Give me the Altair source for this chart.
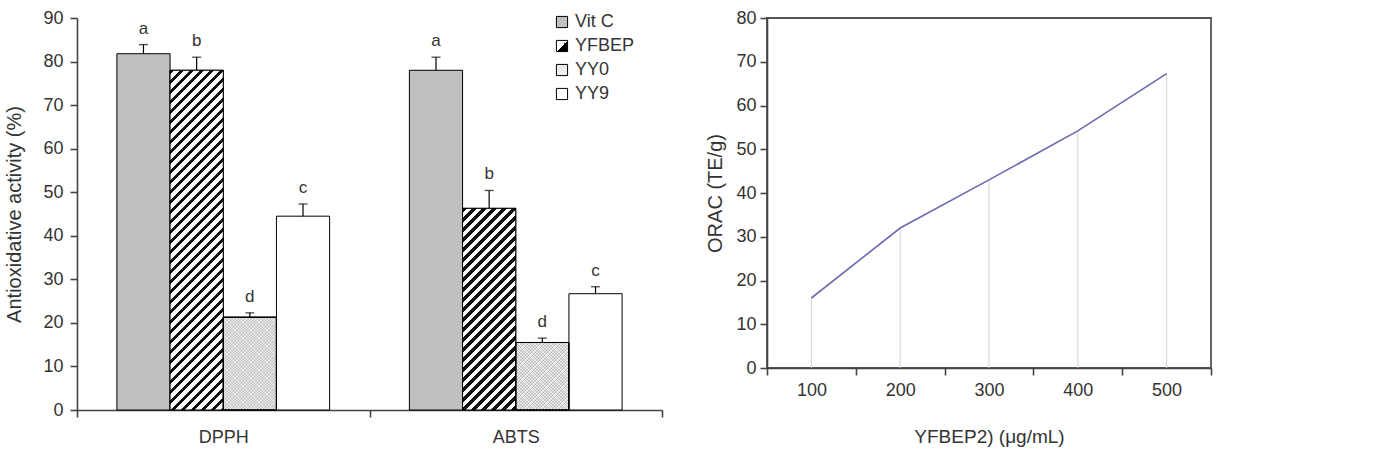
import math
import altair as alt
import pandas as pd

# ---- data -------------------------------------------------------------
assays = ["DPPH", "ABTS"]
treatments = ["Vit C", "YFBEP", "YY0", "YY9"]
dpph_mean = [81.8, 78.0, 21.3, 44.5]
dpph_err = [2.1, 3.0, 1.0, 2.8]
dpph_letter = ["a", "b", "d", "c"]
abts_mean = [78.0, 46.3, 15.5, 26.7]
abts_err = [3.0, 4.1, 1.0, 1.6]
abts_letter = ["a", "b", "d", "c"]

conc = ["100", "200", "300", "400", "500"]
orac = [16.0, 32.0, 43.0, 54.2, 67.3]

# ---- layout / style ---------------------------------------------------
FONT = "Liberation Sans"
TXT = "#333333"
AX = "#444444"
L_W, L_H, L_MAX = 585, 392, 90
R_W, R_H, R_MAX = 444, 350, 80
OFFSET_PAD = 0.75

rows = []
for assay, means, errs, letters in [
    ("DPPH", dpph_mean, dpph_err, dpph_letter),
    ("ABTS", abts_mean, abts_err, abts_letter),
]:
    for t, m, e, l in zip(treatments, means, errs, letters):
        rows.append({"assay": assay, "treatment": t, "mean": m,
                     "top": m + e, "letter": l})
bars = pd.DataFrame(rows)

band_px = L_W / len(assays)
bar_px = band_px / (len(treatments) + 2 * OFFSET_PAD)


def stripe_gradient(value, period, dark, dark_color, light_color, flip=False):
    """Linear gradient giving 45-degree stripes on a bar of the given value."""
    w = bar_px
    h = value / L_MAX * L_H
    k = (w + h) / (w * w + h * h)
    a, b = w * k, h * k
    n = int(math.ceil((w + h) / period))
    stops = []
    for i in range(n):
        s0 = i * period / (w + h)
        s1 = min((i * period + dark) / (w + h), 1.0)
        s2 = min((i + 1) * period / (w + h), 1.0)
        if s0 >= 1:
            break
        stops += [
            {"offset": s0, "color": dark_color},
            {"offset": s1, "color": dark_color},
            {"offset": s1, "color": light_color},
            {"offset": s2, "color": light_color},
        ]
    if flip:
        return {"gradient": "linear", "x1": 0, "y1": 1, "x2": a, "y2": 1 - b,
                "stops": stops}
    return {"gradient": "linear", "x1": 0, "y1": 0, "x2": a, "y2": b,
            "stops": stops}


legend_hatch = (
    "{gradient: 'linear', x1: 0, y1: 0, x2: 1, y2: 1, stops: ["
    "{offset: 0, color: 'white'}, {offset: 0.5, color: 'white'}, "
    "{offset: 0.5, color: 'black'}, {offset: 1, color: 'black'}]}"
)

x_enc = alt.X("assay:N", sort=assays,
              scale=alt.Scale(domain=assays, paddingInner=0, paddingOuter=0),
              axis=alt.Axis(title=None, labelAngle=0, tickBand="extent",
                            labelPadding=11, labelFontSize=18))
xo_enc = alt.XOffset("treatment:N",
                     scale=alt.Scale(domain=treatments, paddingInner=0,
                                     paddingOuter=OFFSET_PAD))
y_enc = alt.Y("mean:Q", scale=alt.Scale(domain=[0, L_MAX], nice=False),
              axis=alt.Axis(title="Antioxidative activity (%)",
                            values=list(range(0, L_MAX + 1, 10)),
                            labelPadding=7, titlePadding=18,
                            titleFontSize=20))

base = alt.Chart(bars)

bar_layer = base.mark_bar(stroke="black", strokeWidth=1).encode(
    x=x_enc, xOffset=xo_enc, y=y_enc,
    fill=alt.Fill("treatment:N",
                  scale=alt.Scale(domain=treatments,
                                  range=["#c0c0c0", {"expr": legend_hatch},
                                         "#ececec", "#ffffff"]),
                  legend=alt.Legend(title=None, orient="none",
                                    legendX=476, legendY=-5,
                                    symbolType="square", symbolSize=125,
                                    symbolStrokeColor="black",
                                    symbolStrokeWidth=1,
                                    labelFontSize=18, labelColor=TXT,
                                    labelFont=FONT, rowPadding=6,
                                    labelOffset=4)),
)

overlays = []
for assay, means in [("DPPH", dpph_mean), ("ABTS", abts_mean)]:
    v_hatch = means[treatments.index("YFBEP")]
    overlays.append(
        base.transform_filter(
            (alt.datum.assay == assay) & (alt.datum.treatment == "YFBEP")
        ).mark_bar(stroke="black", strokeWidth=1,
                   fill=stripe_gradient(v_hatch, 10, 4.2, "#111111", "#ffffff")
                   ).encode(x=x_enc, xOffset=xo_enc, y=y_enc)
    )
    v_dot = means[treatments.index("YY0")]
    for flip in (False, True):
        overlays.append(
            base.transform_filter(
                (alt.datum.assay == assay) & (alt.datum.treatment == "YY0")
            ).mark_bar(stroke="black", strokeWidth=1,
                       fill=stripe_gradient(v_dot, 3.2, 1.0,
                                            "rgba(70,70,70,0.2)",
                                            "rgba(255,255,255,0)", flip=flip)
                       ).encode(x=x_enc, xOffset=xo_enc, y=y_enc)
        )

err_rule = base.mark_rule(color="black", strokeWidth=1.2).encode(
    x=x_enc, xOffset=xo_enc, y=alt.Y("mean:Q"), y2="top:Q")
err_cap = base.mark_tick(color="black", thickness=1.3, size=9,
                         orient="horizontal").encode(
    x=x_enc, xOffset=xo_enc, y=alt.Y("top:Q"))
letters = base.mark_text(baseline="alphabetic", dy=-11, fontSize=17,
                         font=FONT, color=TXT).encode(
    x=x_enc, xOffset=xo_enc, y=alt.Y("top:Q"), text="letter:N")

left = alt.layer(bar_layer, *overlays, err_rule, err_cap, letters).properties(
    width=L_W, height=L_H, view=alt.ViewBackground(stroke=None))

# ---- ORAC line chart --------------------------------------------------
orac_df = pd.DataFrame({"conc": conc, "orac": orac})
rx = alt.X("conc:N", sort=conc,
           scale=alt.Scale(type="band", domain=conc, paddingInner=0,
                           paddingOuter=0),
           axis=alt.Axis(title="YFBEP2) (\u03bcg/mL)", labelAngle=0,
                         tickBand="extent", labelPadding=6, titlePadding=28,
                         labelFontSize=18, titleFontSize=19))
ry = alt.Y("orac:Q", scale=alt.Scale(domain=[0, R_MAX], nice=False),
           axis=alt.Axis(title="ORAC (TE/g)",
                         values=list(range(0, R_MAX + 1, 10)),
                         labelPadding=4, titlePadding=10, titleFontSize=20))

drops = alt.Chart(orac_df).mark_rule(color="#d4d4d4", strokeWidth=1).encode(
    x=rx, y=ry, y2=alt.Y2(datum=0))
line = alt.Chart(orac_df).mark_line(color="#6a6ab0", strokeWidth=1.6).encode(
    x=rx, y=ry)

right = alt.layer(drops, line).properties(
    width=R_W, height=R_H,
    view=alt.ViewBackground(stroke="#555555", strokeWidth=1.8))

chart = alt.hconcat(left, right, spacing=105, bounds="flush").properties(
    padding={"left": 4, "top": 8, "right": 5, "bottom": 5}
).configure_axis(
    grid=False, domainColor=AX, tickColor=AX, domainWidth=1.6, tickWidth=1.6,
    tickSize=7, labelFont=FONT, titleFont=FONT, labelFontSize=18,
    titleFontSize=20, titleFontWeight="normal", labelColor=TXT,
    titleColor=TXT,
).configure_view(stroke=None)

chart.save("out.html", embed_options={"renderer": "svg", "actions": False})
